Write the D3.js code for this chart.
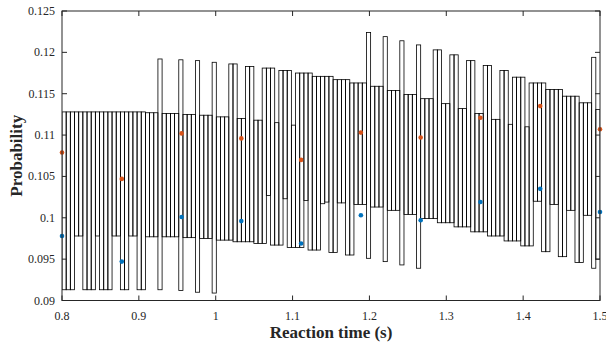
<!DOCTYPE html>
<html>
<head>
<meta charset="utf-8">
<script src="https://cdn.jsdelivr.net/npm/d3@7"></script>
<style>
    body { margin: 0; background: #fff; }
    svg { display: block; }
    .tick-label { font-family: "Liberation Serif", "Times New Roman", serif; font-size: 12px; fill: #262626; }
    .axis-title { font-family: "Liberation Serif", "Times New Roman", serif; font-size: 17px; font-weight: bold; fill: #262626; }
</style>
</head>
<body>
<svg id="chart" width="606" height="346"></svg>
<script>
// upper / lower edge of every interval box, left to right
var boxUpper = [
    0.1128, 0.1128, 0.1128, 0.1128, 0.1128, 0.1128, 0.1128, 0.1128, 0.1128, 0.1128,
    0.1128, 0.1128, 0.1128, 0.1128, 0.1128, 0.1128, 0.1128, 0.1128, 0.1128, 0.1128,
    0.1127, 0.1127, 0.1127, 0.1192, 0.1126, 0.1126, 0.1126, 0.1126, 0.1191, 0.1125,
    0.1125, 0.1125, 0.1190, 0.1124, 0.1124, 0.1124, 0.1188, 0.1122, 0.1122, 0.1122,
    0.1186, 0.1186, 0.1120, 0.1120, 0.1183, 0.1183, 0.1118, 0.1118, 0.1181, 0.1181,
    0.1181, 0.1115, 0.1178, 0.1178, 0.1178, 0.1112, 0.1175, 0.1175, 0.1175, 0.1175,
    0.1171, 0.1171, 0.1171, 0.1171, 0.1171, 0.1167, 0.1167, 0.1167, 0.1167, 0.1163,
    0.1163, 0.1163, 0.1163, 0.1224, 0.1159, 0.1159, 0.1159, 0.1219, 0.1154, 0.1154,
    0.1154, 0.1214, 0.1149, 0.1149, 0.1149, 0.1209, 0.1144, 0.1144, 0.1144, 0.1203,
    0.1203, 0.1138, 0.1138, 0.1197, 0.1197, 0.1132, 0.1132, 0.1190, 0.1190, 0.1126,
    0.1126, 0.1184, 0.1184, 0.1119, 0.1119, 0.1178, 0.1178, 0.1113, 0.1170, 0.1170,
    0.1170, 0.1110, 0.1163, 0.1163, 0.1163, 0.1163, 0.1155, 0.1155, 0.1155, 0.1155,
    0.1147, 0.1147, 0.1147, 0.1147, 0.1139, 0.1139, 0.1139, 0.1194, 0.1131
];

var boxLower = [
    0.0913, 0.0913, 0.0913, 0.0978, 0.0978, 0.0913, 0.0913, 0.0913, 0.0978, 0.0913,
    0.0913, 0.0913, 0.0978, 0.0978, 0.0913, 0.0913, 0.0978, 0.0978, 0.0913, 0.0913,
    0.0977, 0.0977, 0.0977, 0.0913, 0.0977, 0.0977, 0.0977, 0.0977, 0.0912, 0.0976,
    0.0976, 0.0976, 0.0910, 0.0975, 0.0975, 0.0975, 0.0909, 0.0973, 0.0973, 0.0973,
    0.0973, 0.0971, 0.0971, 0.0971, 0.0971, 0.0971, 0.0969, 0.0969, 0.0969, 0.1027,
    0.0967, 0.0967, 0.0967, 0.1023, 0.0964, 0.0964, 0.0964, 0.0964, 0.1021, 0.0961,
    0.0961, 0.0961, 0.1017, 0.1019, 0.0958, 0.0958, 0.1018, 0.1018, 0.0955, 0.0955,
    0.1016, 0.1016, 0.1016, 0.0951, 0.1013, 0.1013, 0.1013, 0.0947, 0.1009, 0.1009,
    0.1009, 0.0943, 0.1004, 0.1004, 0.1004, 0.0939, 0.0999, 0.0999, 0.0999, 0.0999,
    0.0994, 0.0994, 0.0994, 0.0994, 0.0989, 0.0989, 0.0989, 0.0989, 0.0983, 0.0983,
    0.0983, 0.0983, 0.0978, 0.0978, 0.0978, 0.0978, 0.0972, 0.0972, 0.0972, 0.0972,
    0.0966, 0.0966, 0.0966, 0.1020, 0.1020, 0.0959, 0.0959, 0.1016, 0.1016, 0.0953,
    0.0953, 0.1009, 0.1009, 0.0946, 0.0946, 0.1003, 0.1003, 0.0939, 0.0950
];

var timePoints = [0.8, 0.8778, 0.9556, 1.0333, 1.1111, 1.1889, 1.2667, 1.3444, 1.4222, 1.5];
var orangeProb = [0.1079, 0.1047, 0.1102, 0.1096, 0.1070, 0.1103, 0.1097, 0.1121, 0.1135, 0.1107];
var blueProb   = [0.0978, 0.0947, 0.1001, 0.0996, 0.0969, 0.1003, 0.0997, 0.1019, 0.1035, 0.1007];

var xTicks = [0.8, 0.9, 1, 1.1, 1.2, 1.3, 1.4, 1.5];
var yTicks = [0.09, 0.095, 0.1, 0.105, 0.11, 0.115, 0.12, 0.125];

var svg = d3.select('#chart'),
    plotLeft = 62, plotRight = 600, plotTop = 11, plotBottom = 300.5,
    axisColor = '#262626',
    tickLen = 5;

var x = d3.scaleLinear().domain([0.8, 1.5]).range([plotLeft, plotRight]),
    y = d3.scaleLinear().domain([0.09, 0.125]).range([plotBottom, plotTop]),
    band = d3.scaleBand().domain(d3.range(boxUpper.length)).range([x(0.8), x(1.5)]).paddingInner(0);

svg.append('defs').append('clipPath')
    .attr('id', 'plot-clip')
    .append('rect')
    .attr('x', plotLeft).attr('y', plotTop)
    .attr('width', plotRight - plotLeft).attr('height', plotBottom - plotTop);

var plot = svg.append('g').attr('clip-path', 'url(#plot-clip)');

plot.selectAll('.box')
    .data(boxUpper.map(function(u, i) { return { i: i, hi: u, lo: boxLower[i] }; }))
    .enter()
    .append('rect')
    .attr('class', 'box')
    .attr('x', function(d) { return band(d.i); })
    .attr('width', band.bandwidth())
    .attr('y', function(d) { return y(d.hi); })
    .attr('height', function(d) { return y(d.lo) - y(d.hi); })
    .attr('fill', 'none')
    .attr('stroke', '#000')
    .attr('stroke-width', 0.8);

function drawDots(values, color) {
    svg.append('g').selectAll('circle')
        .data(values)
        .enter()
        .append('circle')
        .attr('cx', function(d, i) { return x(timePoints[i]); })
        .attr('cy', function(d) { return y(d); })
        .attr('r', 2.3)
        .attr('fill', color);
}

drawDots(orangeProb, '#d95319');
drawDots(blueProb, '#0072bd');

// axes box with inward ticks on all four sides
var frame = svg.append('g')
    .attr('stroke', axisColor)
    .attr('stroke-width', 1)
    .attr('fill', 'none');

frame.append('rect')
    .attr('x', plotLeft).attr('y', plotTop)
    .attr('width', plotRight - plotLeft).attr('height', plotBottom - plotTop);

xTicks.forEach(function(t) {
    frame.append('line').attr('x1', x(t)).attr('x2', x(t)).attr('y1', plotBottom).attr('y2', plotBottom - tickLen);
    frame.append('line').attr('x1', x(t)).attr('x2', x(t)).attr('y1', plotTop).attr('y2', plotTop + tickLen);
});

yTicks.forEach(function(t) {
    frame.append('line').attr('x1', plotLeft).attr('x2', plotLeft + tickLen).attr('y1', y(t)).attr('y2', y(t));
    frame.append('line').attr('x1', plotRight).attr('x2', plotRight - tickLen).attr('y1', y(t)).attr('y2', y(t));
});

svg.append('g').selectAll('text')
    .data(xTicks)
    .enter()
    .append('text')
    .attr('class', 'tick-label')
    .attr('x', function(d) { return x(d); })
    .attr('y', 320)
    .attr('text-anchor', 'middle')
    .text(function(d) { return d; });

svg.append('g').selectAll('text')
    .data(yTicks)
    .enter()
    .append('text')
    .attr('class', 'tick-label')
    .attr('x', 55)
    .attr('y', function(d) { return y(d) + 4; })
    .attr('text-anchor', 'end')
    .text(function(d) { return d; });

svg.append('text')
    .attr('class', 'axis-title')
    .attr('x', (plotLeft + plotRight) / 2)
    .attr('y', 338)
    .attr('text-anchor', 'middle')
    .text('Reaction time (s)');

svg.append('text')
    .attr('class', 'axis-title')
    .attr('transform', 'translate(22,' + ((plotTop + plotBottom) / 2) + ') rotate(-90)')
    .attr('text-anchor', 'middle')
    .text('Probability');
</script>
</body>
</html>
